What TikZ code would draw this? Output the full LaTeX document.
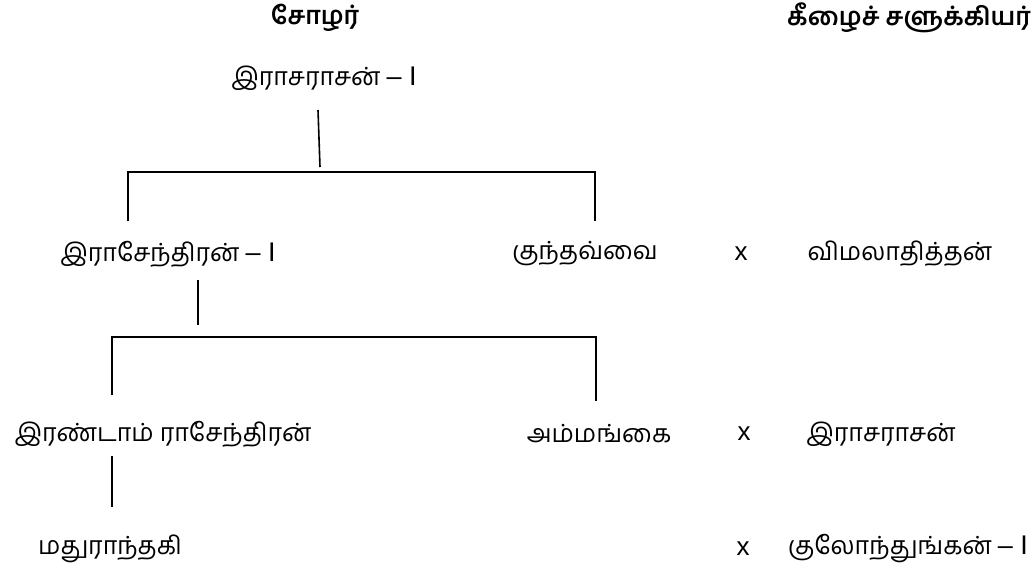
\documentclass[tikz,border=0pt]{standalone}
\usepackage{fontspec}
\newfontfamily\tamil[Script=Tamil]{Hind Madurai}
\newfontfamily\latinpart{Liberation Sans}
\newcommand{\numone}{{\latinpart\fontsize{27}{28}\selectfont – I}}
\begin{document}
\begin{tikzpicture}[x=1pt,y=-1pt,
  person/.style={font=\tamil\fontsize{25}{28}\selectfont, inner sep=0pt},
  cross/.style={font=\latinpart\fontsize{26}{28}\selectfont, inner sep=0pt},
  heading/.style={font=\tamil\bfseries\fontsize{25}{28}\selectfont, inner sep=0pt},
  link/.style={line width=1.6pt}]
\useasboundingbox (0,0) rectangle (1035,574);
% headings
\node[heading] (hchola) at (315,18) {சோழர்};
\node[heading, anchor=east] (hchal) at (1031,18) {கீழைச் சளுக்கியர்};
% names
\node[person] (rr1) at (324,78) {இராசராசன் \numone};
\node[person] (re1) at (168,254) {இராசேந்திரன் \numone};
\node[person] (kun) at (585,254) {குந்தவ்வை};
\node[cross] (x1) at (741,254) {x};
\node[person] (vim) at (900,254) {விமலாதித்தன்};
\node[person] (re2) at (163,434) {இரண்டாம் ராசேந்திரன்};
\node[person] (amm) at (599,434) {அம்மங்கை};
\node[cross] (x2) at (744,434) {x};
\node[person] (rr) at (881,434) {இராசராசன்};
\node[person] (mad) at (110,549) {மதுராந்தகி};
\node[cross] (x3) at (743,549) {x};
\node[person] (kul) at (908,549) {குலோந்துங்கன் \numone};
% line coordinates
\coordinate (a1) at (318,110);
\coordinate (a2) at (320,167);
\coordinate (a3) at (128,221);
\coordinate (a4) at (128,172);
\coordinate (a5) at (595,172);
\coordinate (a6) at (595,221);
\coordinate (b1) at (198,280);
\coordinate (b2) at (198,325);
\coordinate (b3) at (112,395);
\coordinate (b4) at (112,337);
\coordinate (b5) at (596,337);
\coordinate (b6) at (596,401);
\coordinate (c1) at (112,456);
\coordinate (c2) at (112,507);
% connectors
\draw[link] (a1) -- (a2);
\draw[link] (a3) -- (a4) -- (a5) -- (a6);
\draw[link] (b1) -- (b2);
\draw[link] (b3) -- (b4) -- (b5) -- (b6);
\draw[link] (c1) -- (c2);
\end{tikzpicture}
\end{document}
